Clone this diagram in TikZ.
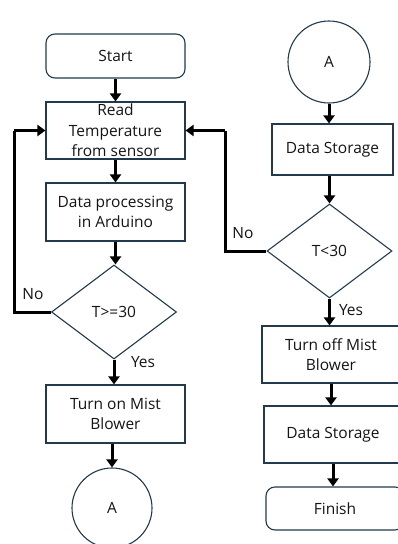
\documentclass[tikz,border=0pt]{standalone}
\usepackage{fontspec}
\setmainfont{Open Sans}
\usetikzlibrary{shapes.geometric,arrows.meta}
\definecolor{edge}{RGB}{34,58,76}
\definecolor{ink}{RGB}{20,20,20}
\tikzset{
  base/.style={draw=edge, line width=1.1pt, text=ink, align=center,
    font=\fontsize{15.5}{20.5}\selectfont, inner sep=0pt},
  proc/.style={base, rectangle, minimum width=139pt, minimum height=57pt},
  term/.style={base, rectangle, rounded corners=9pt, minimum width=139pt, minimum height=44pt},
  decide/.style={base, diamond, minimum width=125pt, minimum height=94pt},
  conn/.style={base, circle, minimum size=80pt},
  arr/.style={line width=3pt, draw=black, -{Triangle[length=8pt,width=11pt]}},
  loop/.style={line width=3pt, draw=black, line join=miter},
  lbl/.style={text=ink, font=\fontsize{15.5}{18}\selectfont, inner sep=0pt}
}
\begin{document}
\begin{tikzpicture}[x=1pt, y=-1pt]
\useasboundingbox (0,0) rectangle (398,544);
\clip (0,0) rectangle (398,544);

% left column
\node[term] (start) at (115.5,56) {Start};
\node[proc] (read) at (115.5,130.5) {Read\\Temperature\\from sensor};
\node[proc, minimum height=58pt] (work) at (115.5,212) {Data processing\\in Arduino};
\node[decide] (d1) at (114,312) {T>=30};
\node[proc, minimum height=58pt] (on) at (115.5,414) {Turn on Mist\\Blower};
\node[conn] (a1) at (112,508) {A};

% right column
\node[conn, minimum size=82pt] (a2) at (329,62) {A};
\node[proc, minimum width=121pt, minimum height=51pt] (st1) at (332.5,149.5) {Data Storage};
\node[decide] (d2) at (329.5,251) {T<30};
\node[proc, minimum width=138pt] (off) at (331,354.5) {Turn off Mist\\Blower};
\node[proc, minimum width=138pt] (st2) at (333,434.5) {Data Storage};
\node[term, minimum width=138pt, minimum height=43pt] (fin) at (335,508.5) {Finish};

% flow, left
\draw[arr] (start.south) -- (start.south |- read.north);
\draw[arr] (read.south) -- (read.south |- work.north);
\draw[arr] (work.south) -- (work.south |- d1.north);
\draw[arr] (d1.south) -- (d1.south |- on.north);
\draw[arr] (on.south -| a1) -- (a1.north);

% flow, right
\draw[arr] (a2.south) -- (a2.south |- st1.north);
\draw[arr] (st1.south -| d2) -- (d2.north);
\draw[arr] (d2.south) -- (d2.south |- off.north);
\draw[arr] (off.south) -- (off.south |- st2.north);
\draw[arr] (st2.south) -- (st2.south |- fin.north);

% "No" loops back to the sensor read
\coordinate (lb) at (14,130.5);
\coordinate (rb) at (225,130.5);
\draw[loop] (d1.west) -| (lb);
\draw[arr] (lb) -- (read.west);
\draw[loop] (d2.west) -| (rb);
\draw[arr] (rb) -- (read.east);

% branch labels
\node[lbl] (n1) at (33,294) {No};
\node[lbl] (y1) at (143,362) {Yes};
\node[lbl] (n2) at (243,233) {No};
\node[lbl] (y2) at (351,310) {Yes};
\end{tikzpicture}
\end{document}
